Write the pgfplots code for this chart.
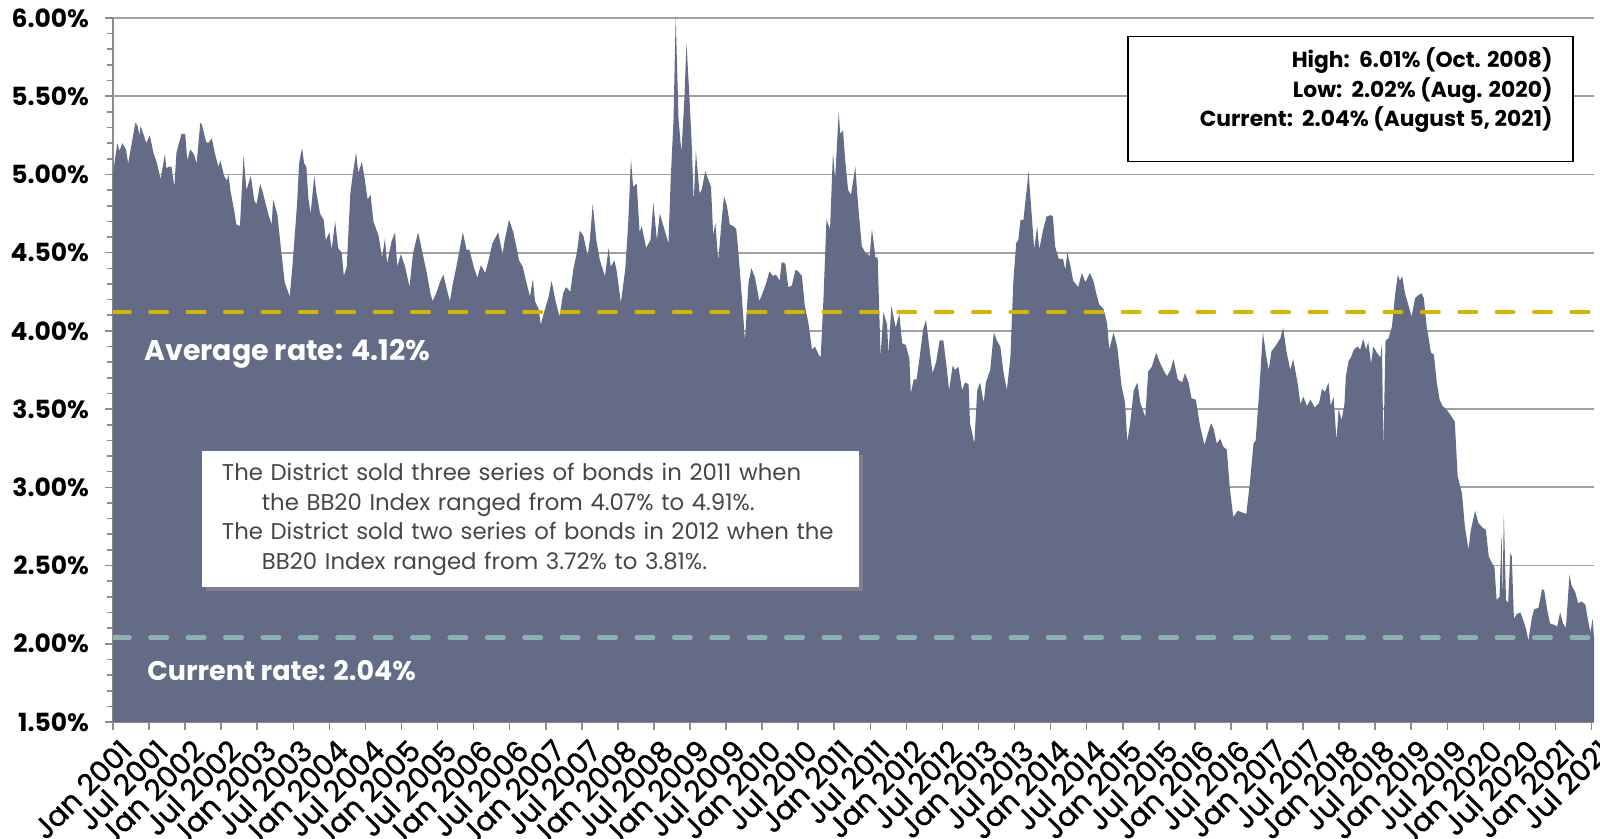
\documentclass[border=0pt]{standalone}
\usepackage{pgfplots}
\pgfplotsset{compat=1.18}
\usepackage{fontspec}
\setmainfont{Poppins}
\newfontfamily\xlabfont{Poppins}[FakeBold=1.0]
\usetikzlibrary{shadows}
\definecolor{areacol}{RGB}{99,107,135}
\definecolor{avgcol}{RGB}{212,182,0}
\definecolor{curcol}{RGB}{140,178,174}
\definecolor{gridcol}{RGB}{160,160,160}
\definecolor{axiscol}{RGB}{140,140,140}
\definecolor{textcol}{RGB}{70,70,70}
\begin{document}
\begin{tikzpicture}
\begin{axis}[
  name=main,
  scale only axis,
  width=740.5pt, height=352pt,
  xmin=2001, xmax=2021.53,
  ymin=1.5, ymax=6,
  axis x line*=bottom, axis y line*=left,
  axis line style={draw=axiscol, line width=0.9pt},
  ytick={1.5,2,2.5,3,3.5,4,4.5,5,5.5,6},
  yticklabels={1.50\%,2.00\%,2.50\%,3.00\%,3.50\%,4.00\%,4.50\%,5.00\%,5.50\%,6.00\%},
  ymajorgrids,
  grid style={gridcol, line width=0.9pt},
  minor y tick num=4,
  xtick={2001,2001.5,...,2021.5},
  xticklabels={Jan 2001,Jul 2001,Jan 2002,Jul 2002,Jan 2003,Jul 2003,Jan 2004,Jul 2004,Jan 2005,Jul 2005,Jan 2006,Jul 2006,Jan 2007,Jul 2007,Jan 2008,Jul 2008,Jan 2009,Jul 2009,Jan 2010,Jul 2010,Jan 2011,Jul 2011,Jan 2012,Jul 2012,Jan 2013,Jul 2013,Jan 2014,Jul 2014,Jan 2015,Jul 2015,Jan 2016,Jul 2016,Jan 2017,Jul 2017,Jan 2018,Jul 2018,Jan 2019,Jul 2019,Jan 2020,Jul 2020,Jan 2021,Jul 2021},
  minor x tick num=1,
  tick align=outside,
  major tick length=4pt, minor tick length=3pt,
  tick style={axiscol, line width=0.8pt},
  minor x tick style={yshift=3pt, draw=gray!60},
  xticklabel style={rotate=45, anchor=north east, font=\xlabfont\fontsize{14.6}{14.6}\selectfont, inner sep=1pt, xshift=0.5pt, yshift=-3.5pt},
  yticklabel style={font=\bfseries\fontsize{12.5}{12.5}\selectfont, xshift=-4.5pt},
]
\addplot[fill=areacol, draw=none] coordinates {
(2001.00,5.01) (2001.06,5.20) (2001.09,5.15) (2001.13,5.20) (2001.18,5.16) (2001.21,5.07) (2001.31,5.33) (2001.34,5.31) (2001.37,5.25) (2001.38,5.31) (2001.42,5.26) (2001.46,5.20) (2001.51,5.25) (2001.56,5.14) (2001.61,5.07) (2001.66,4.97) (2001.72,5.13) (2001.74,5.04) (2001.78,5.05) (2001.81,5.05) (2001.85,4.92) (2001.88,5.14) (2001.95,5.26) (2002.00,5.26) (2002.03,5.09) (2002.07,5.16) (2002.12,5.13) (2002.16,5.07) (2002.21,5.33) (2002.23,5.32) (2002.29,5.21) (2002.32,5.20) (2002.37,5.23) (2002.41,5.14) (2002.46,5.05) (2002.49,5.09) (2002.54,4.99) (2002.58,4.96) (2002.60,5.00) (2002.63,4.89) (2002.68,4.77) (2002.71,4.68) (2002.76,4.67) (2002.81,5.12) (2002.85,4.90) (2002.91,4.99) (2002.96,4.83) (2002.99,4.81) (2003.04,4.94) (2003.08,4.88) (2003.15,4.75) (2003.20,4.68) (2003.22,4.84) (2003.28,4.74) (2003.32,4.56) (2003.38,4.31) (2003.45,4.22) (2003.49,4.43) (2003.55,4.80) (2003.58,5.07) (2003.62,5.17) (2003.65,5.07) (2003.68,5.05) (2003.71,4.84) (2003.74,4.75) (2003.79,4.99) (2003.82,4.88) (2003.87,4.75) (2003.92,4.71) (2003.95,4.58) (2004.00,4.63) (2004.03,4.52) (2004.08,4.70) (2004.12,4.53) (2004.17,4.50) (2004.20,4.35) (2004.24,4.41) (2004.29,4.88) (2004.33,5.02) (2004.37,5.14) (2004.40,5.01) (2004.45,5.08) (2004.49,4.97) (2004.53,4.84) (2004.57,4.87) (2004.61,4.70) (2004.68,4.61) (2004.73,4.47) (2004.77,4.59) (2004.80,4.43) (2004.86,4.57) (2004.91,4.63) (2004.94,4.41) (2004.99,4.49) (2005.05,4.41) (2005.11,4.28) (2005.16,4.50) (2005.23,4.63) (2005.29,4.50) (2005.35,4.37) (2005.40,4.24) (2005.43,4.19) (2005.48,4.24) (2005.53,4.31) (2005.58,4.36) (2005.63,4.26) (2005.67,4.19) (2005.71,4.30) (2005.76,4.41) (2005.85,4.63) (2005.90,4.52) (2005.94,4.52) (2006.00,4.41) (2006.05,4.34) (2006.10,4.42) (2006.16,4.37) (2006.20,4.44) (2006.26,4.56) (2006.34,4.63) (2006.40,4.49) (2006.43,4.58) (2006.49,4.71) (2006.55,4.63) (2006.63,4.45)
(2006.68,4.41) (2006.73,4.31) (2006.78,4.22) (2006.82,4.33) (2006.85,4.19) (2006.90,4.14) (2006.93,4.04) (2006.97,4.11) (2007.04,4.22) (2007.08,4.32) (2007.13,4.20) (2007.19,4.09) (2007.24,4.24) (2007.28,4.28) (2007.34,4.25) (2007.38,4.39) (2007.43,4.50) (2007.47,4.64) (2007.52,4.61) (2007.58,4.48) (2007.61,4.58) (2007.65,4.81) (2007.70,4.58) (2007.75,4.45) (2007.82,4.35) (2007.87,4.53) (2007.90,4.41) (2007.95,4.45) (2007.98,4.39) (2008.04,4.18) (2008.10,4.39) (2008.14,4.67) (2008.18,5.10) (2008.21,4.92) (2008.26,4.94) (2008.30,4.63) (2008.33,4.67) (2008.39,4.53) (2008.45,4.58) (2008.49,4.82) (2008.54,4.58) (2008.58,4.75) (2008.63,4.67) (2008.70,4.56) (2008.73,4.96) (2008.77,5.35) (2008.80,6.01) (2008.84,5.35) (2008.88,5.14) (2008.92,5.48) (2008.95,5.84) (2008.99,5.50) (2009.02,5.22) (2009.05,4.82) (2009.08,5.15) (2009.13,4.88) (2009.16,4.90) (2009.21,5.02) (2009.25,4.97) (2009.29,4.92) (2009.32,4.61) (2009.35,4.69) (2009.39,4.45) (2009.44,4.72) (2009.47,4.86) (2009.51,4.80) (2009.55,4.68) (2009.60,4.67) (2009.64,4.65) (2009.67,4.50) (2009.72,4.20) (2009.76,3.94) (2009.81,4.31) (2009.85,4.40) (2009.90,4.34) (2009.96,4.19) (2010.02,4.26) (2010.05,4.30) (2010.10,4.38) (2010.15,4.35) (2010.19,4.36) (2010.24,4.32) (2010.27,4.44) (2010.32,4.43) (2010.36,4.28) (2010.41,4.29) (2010.46,4.39) (2010.50,4.38) (2010.55,4.35) (2010.59,4.16) (2010.64,4.05) (2010.69,3.88) (2010.73,3.90) (2010.78,3.85) (2010.81,3.83) (2010.85,4.22) (2010.89,4.71) (2010.94,4.65) (2010.98,5.14) (2011.01,4.97) (2011.06,5.40) (2011.08,5.26) (2011.12,5.28) (2011.15,5.09) (2011.19,4.90) (2011.23,4.87) (2011.29,5.05) (2011.33,4.80) (2011.38,4.54) (2011.43,4.50) (2011.49,4.48) (2011.52,4.65) (2011.57,4.47) (2011.60,4.47) (2011.64,3.84) (2011.68,4.12) (2011.73,4.04) (2011.75,3.85) (2011.79,4.16) (2011.85,4.02) (2011.90,4.11) (2011.94,3.92) (2011.99,3.91) (2012.04,3.82)
(2012.06,3.60) (2012.10,3.69) (2012.14,3.69) (2012.19,3.86) (2012.23,4.01) (2012.27,4.07) (2012.32,3.88) (2012.36,3.73) (2012.41,3.80) (2012.46,3.94) (2012.51,3.94) (2012.56,3.75) (2012.59,3.62) (2012.64,3.78) (2012.67,3.75) (2012.72,3.77) (2012.77,3.62) (2012.81,3.67) (2012.86,3.66) (2012.88,3.41) (2012.94,3.28) (2012.98,3.62) (2013.02,3.67) (2013.07,3.54) (2013.10,3.67) (2013.16,3.75) (2013.21,3.99) (2013.25,3.94) (2013.30,3.90) (2013.34,3.75) (2013.39,3.62) (2013.44,3.83) (2013.48,4.31) (2013.52,4.56) (2013.55,4.58) (2013.58,4.71) (2013.62,4.71) (2013.67,4.92) (2013.69,5.02) (2013.72,4.84) (2013.77,4.52) (2013.81,4.67) (2013.84,4.52) (2013.89,4.64) (2013.94,4.73) (2014.00,4.74) (2014.03,4.73) (2014.06,4.54) (2014.11,4.46) (2014.17,4.46) (2014.20,4.39) (2014.23,4.50) (2014.27,4.42) (2014.31,4.32) (2014.38,4.28) (2014.43,4.37) (2014.48,4.31) (2014.54,4.37) (2014.59,4.32) (2014.63,4.24) (2014.67,4.17) (2014.73,4.14) (2014.78,4.05) (2014.81,3.88) (2014.87,3.99) (2014.92,3.90) (2014.95,3.78) (2014.98,3.65) (2015.03,3.54) (2015.06,3.29) (2015.10,3.41) (2015.15,3.62) (2015.20,3.67) (2015.24,3.54) (2015.31,3.45) (2015.35,3.74) (2015.40,3.77) (2015.46,3.86) (2015.51,3.80) (2015.56,3.75) (2015.61,3.71) (2015.66,3.75) (2015.70,3.82) (2015.76,3.69) (2015.82,3.67) (2015.86,3.73) (2015.91,3.67) (2015.95,3.57) (2016.01,3.56) (2016.07,3.39) (2016.13,3.27) (2016.16,3.32) (2016.22,3.41) (2016.26,3.37) (2016.30,3.28) (2016.35,3.31) (2016.39,3.26) (2016.44,3.24) (2016.48,3.00) (2016.53,2.81) (2016.59,2.85) (2016.65,2.84) (2016.71,2.83) (2016.76,3.03) (2016.81,3.28) (2016.84,3.30) (2016.89,3.62) (2016.94,3.99) (2016.98,3.86) (2017.02,3.75) (2017.06,3.87) (2017.11,3.90) (2017.18,3.95) (2017.22,4.02) (2017.27,3.86) (2017.32,3.75) (2017.36,3.82) (2017.42,3.67) (2017.46,3.53) (2017.50,3.58) (2017.55,3.52) (2017.60,3.56) (2017.66,3.51) (2017.72,3.54)
(2017.76,3.63) (2017.80,3.61) (2017.85,3.67) (2017.88,3.52) (2017.92,3.58) (2017.96,3.30) (2017.99,3.50) (2018.03,3.43) (2018.07,3.53) (2018.09,3.71) (2018.13,3.81) (2018.16,3.83) (2018.20,3.88) (2018.25,3.90) (2018.29,3.88) (2018.33,3.95) (2018.37,3.88) (2018.40,3.93) (2018.44,3.79) (2018.47,3.90) (2018.52,3.86) (2018.57,3.83) (2018.59,3.92) (2018.61,3.24) (2018.64,3.94) (2018.68,3.95) (2018.73,4.03) (2018.77,4.22) (2018.81,4.36) (2018.84,4.32) (2018.87,4.35) (2018.91,4.24) (2018.96,4.16) (2019.00,4.09) (2019.05,4.21) (2019.10,4.23) (2019.14,4.24) (2019.17,4.21) (2019.21,4.03) (2019.27,3.86) (2019.31,3.85) (2019.35,3.67) (2019.39,3.56) (2019.43,3.52) (2019.48,3.50) (2019.53,3.47) (2019.60,3.42) (2019.64,3.07) (2019.70,2.96) (2019.74,2.75) (2019.79,2.60) (2019.82,2.72) (2019.88,2.85) (2019.93,2.77) (2019.99,2.74) (2020.03,2.73) (2020.07,2.56) (2020.11,2.52) (2020.15,2.49) (2020.18,2.28) (2020.22,2.30) (2020.25,2.71) (2020.26,2.26) (2020.28,2.83) (2020.31,2.28) (2020.34,2.26) (2020.37,2.58) (2020.39,2.56) (2020.42,2.16) (2020.46,2.19) (2020.51,2.20) (2020.55,2.15) (2020.59,2.09) (2020.62,2.02) (2020.67,2.17) (2020.70,2.22) (2020.76,2.23) (2020.81,2.35) (2020.84,2.34) (2020.88,2.22) (2020.92,2.13) (2020.98,2.12) (2021.02,2.11) (2021.06,2.20) (2021.10,2.13) (2021.14,2.10) (2021.19,2.44) (2021.22,2.37) (2021.27,2.33) (2021.31,2.26) (2021.36,2.27) (2021.41,2.25) (2021.44,2.17) (2021.48,2.07) (2021.51,2.16) (2021.53,2.04)
} \closedcycle;
\addplot[avgcol, line width=2.2pt, line cap=round, dash pattern=on 8.3pt off 10.4pt] coordinates {(2001,4.12) (2021.53,4.12)};
\addplot[curcol, line width=2.2pt, line cap=round, dash pattern=on 8.3pt off 10.4pt] coordinates {(2001,2.04) (2021.53,2.04)};
\node[anchor=west, text=white, inner sep=0pt, font=\bfseries\fontsize{14.2}{14.2}\selectfont] at (axis cs:2001.43,3.855) {Average rate: 4.12\%};
\node[anchor=west, text=white, inner sep=0pt, font=\bfseries\fontsize{13.5}{13.5}\selectfont] at (axis cs:2001.47,1.83) {Current rate: 2.04\%};
\node[draw=black, line width=0.8pt, fill=white, anchor=north east, minimum width=222.5pt, minimum height=62.5pt, inner sep=0pt] (box) at (axis cs:2021.25,5.887) {};
\node[anchor=north east, inner sep=0pt, align=right, font=\bfseries\fontsize{10.9}{14.7}\selectfont] at ([shift={(-10.5pt,-6pt)}]box.north east) {High:\ \ 6.01\% (Oct. 2008)\\Low:\ \ 2.02\% (Aug. 2020)\\Current:\ \ 2.04\% (August 5, 2021)};
\node[fill=white, drop shadow={shadow xshift=2pt, shadow yshift=-2pt, fill=black!40}, anchor=north west, minimum width=328.5pt, minimum height=68pt, text width=309pt, inner xsep=9.75pt, align=left, text=textcol, font=\fontsize{11.4}{14.7}\selectfont] at (axis cs:2002.234,3.233) {The District sold three series of bonds in 2011 when\\\hspace*{20pt}the BB20 Index ranged from 4.07\% to 4.91\%.\\The District sold two series of bonds in 2012 when the\\\hspace*{20pt}BB20 Index ranged from 3.72\% to 3.81\%.};
\end{axis}
\pgfresetboundingbox
\path[use as bounding box] ([shift={(-56.5pt,-58.5pt)}]main.south west) rectangle ([shift={(3pt,9pt)}]main.north east);
\end{tikzpicture}
\end{document}
